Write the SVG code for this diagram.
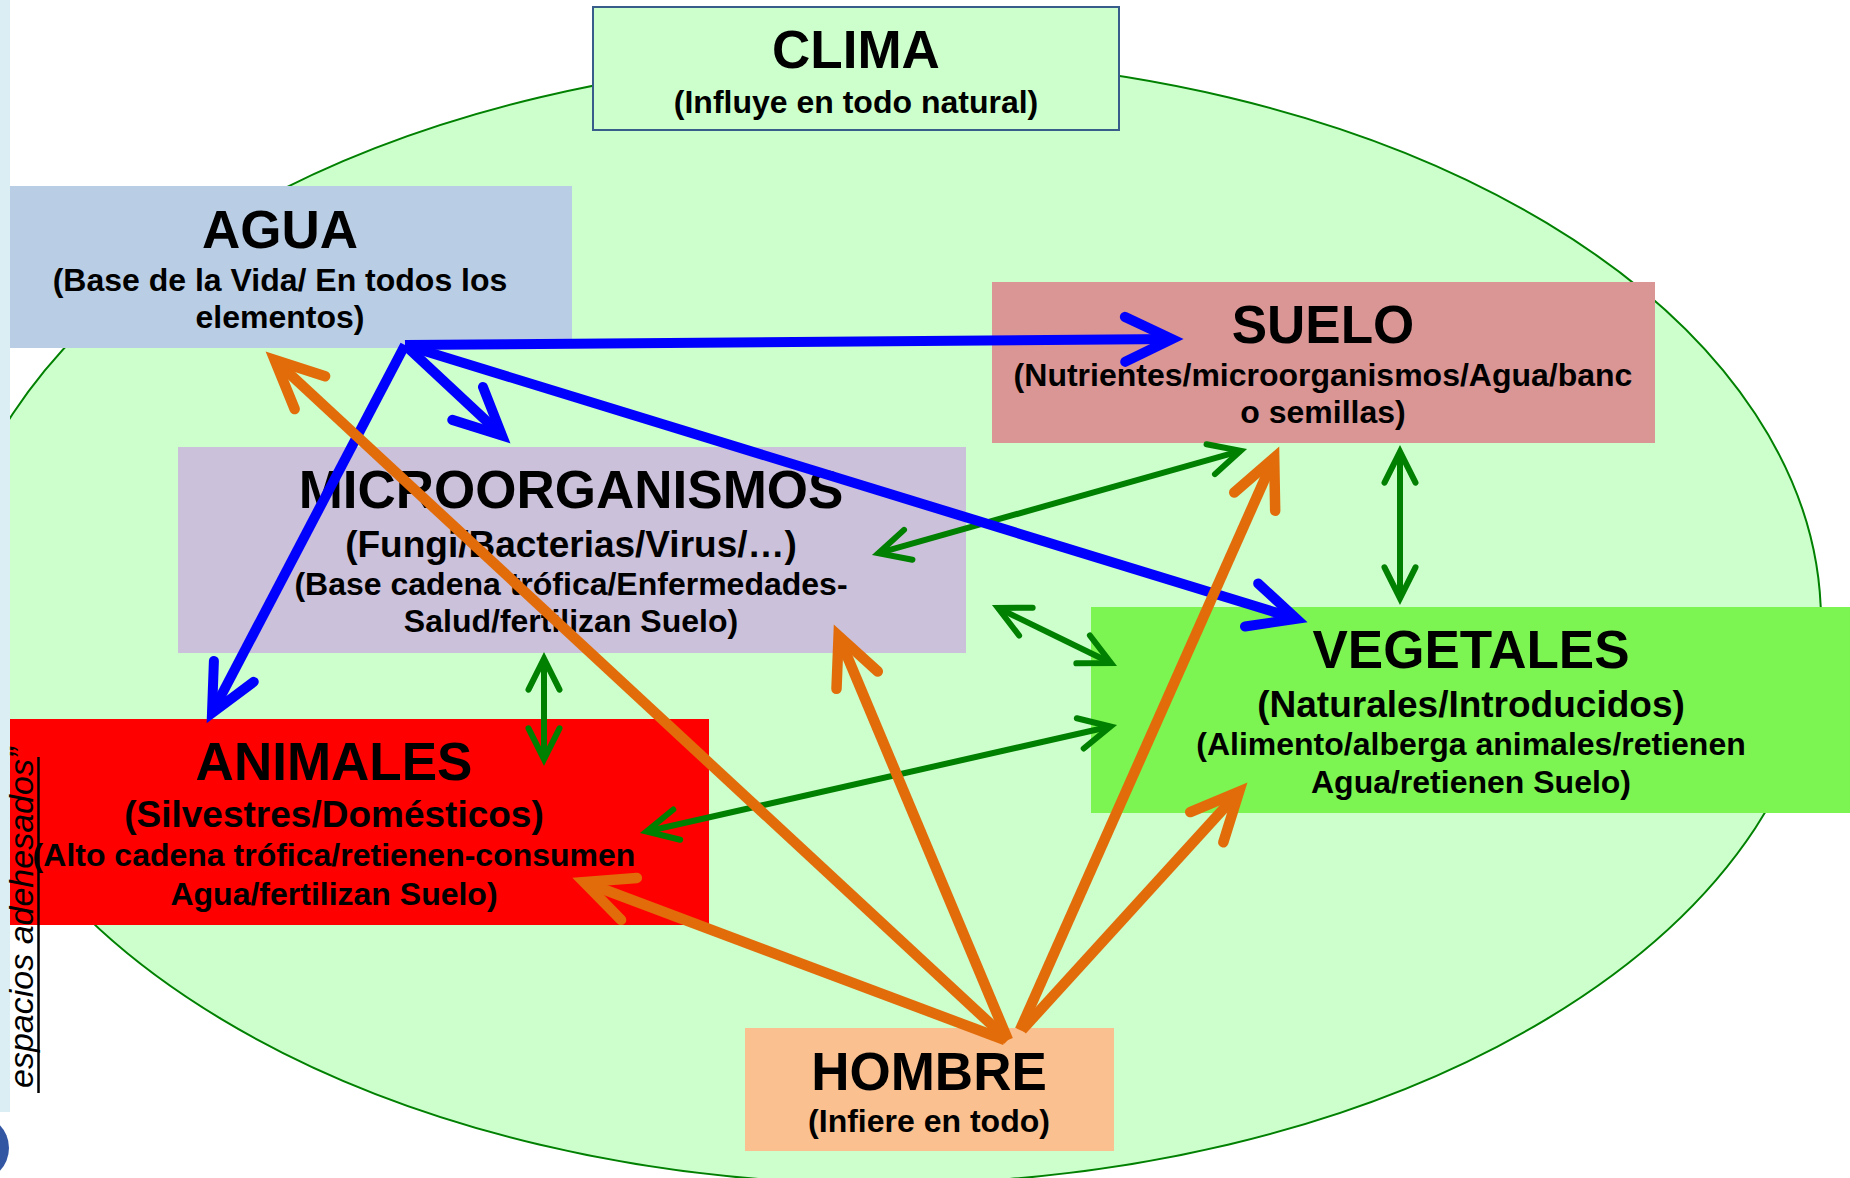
<svg xmlns="http://www.w3.org/2000/svg" width="1850" height="1178" viewBox="0 0 1850 1178">
<style>
.t{font-family:"Liberation Sans",Arial,sans-serif;font-weight:bold;text-anchor:middle;fill:#000}
.h{font-size:53px}
.s{font-size:32px}
.m{font-size:37px}
.g{stroke:#008000;stroke-width:6;fill:none;marker-start:url(#ahG);marker-end:url(#ahG)}
.b{stroke:#0000ff;stroke-width:10;fill:none;marker-end:url(#ahB)}
.o{stroke:#e36c0a;stroke-width:10.5;fill:none;marker-end:url(#ahO)}
</style>
<defs>
<marker id="ahB" markerUnits="userSpaceOnUse" orient="auto-start-reverse" overflow="visible" refX="0" refY="0" markerWidth="60" markerHeight="60">
<path d="M-47,-22.5 L0,0 L-47,22.5" fill="none" stroke="#0000ff" stroke-width="10" stroke-linecap="round" stroke-linejoin="miter" stroke-miterlimit="10"/>
</marker>
<marker id="ahO" markerUnits="userSpaceOnUse" orient="auto-start-reverse" overflow="visible" refX="0" refY="0" markerWidth="60" markerHeight="60">
<path d="M-48,-22.4 L0,0 L-48,22.4" fill="none" stroke="#e36c0a" stroke-width="10.5" stroke-linecap="round" stroke-linejoin="miter" stroke-miterlimit="10"/>
</marker>
<marker id="ahG" markerUnits="userSpaceOnUse" orient="auto-start-reverse" overflow="visible" refX="0" refY="0" markerWidth="40" markerHeight="40">
<path d="M-31,-15.5 L0,0 L-31,15.5" fill="none" stroke="#008000" stroke-width="6" stroke-linecap="round" stroke-linejoin="miter" stroke-miterlimit="10"/>
</marker>
</defs>
<rect x="0" y="0" width="1850" height="1178" fill="#ffffff"/>
<g id="ambiente">
<ellipse cx="884" cy="621" rx="937" ry="563" fill="#ccffcc" stroke="#008000" stroke-width="2"/>
</g>
<rect x="0" y="0" width="10" height="1112" fill="#daeef3"/>
<g id="clima">
<rect x="593" y="7" width="526" height="123" fill="#ccffcc" stroke="#385d8a" stroke-width="2"/>
<text class="t h" x="856" y="68">CLIMA</text>
<text class="t s" x="856" y="113">(Influye en todo natural)</text>
</g>
<g id="agua">
<rect x="10" y="186" width="562" height="162" fill="#b9cde5"/>
<text class="t h" x="280" y="248">AGUA</text>
<text class="t s" x="280" y="291">(Base de la Vida/ En todos los</text>
<text class="t s" x="280" y="328">elementos)</text>
</g>
<g id="suelo">
<rect x="992" y="282" width="663" height="161" fill="#d99694"/>
<text class="t h" x="1323" y="343">SUELO</text>
<text class="t s" x="1323" y="386">(Nutrientes/microorganismos/Agua/banc</text>
<text class="t s" x="1323" y="423">o semillas)</text>
</g>
<g id="microorganismos">
<rect x="178" y="447" width="788" height="206" fill="#ccc1da"/>
<text class="t h" x="571" y="508">MICROORGANISMOS</text>
<text class="t m" x="571" y="557">(Fungi/Bacterias/Virus/…)</text>
<text class="t s" x="571" y="595">(Base cadena trófica/Enfermedades-</text>
<text class="t s" x="571" y="632">Salud/fertilizan Suelo)</text>
</g>
<g id="animales">
<rect x="10" y="719" width="699" height="206" fill="#ff0000"/>
<text class="t h" x="334" y="780">ANIMALES</text>
<text class="t m" x="334" y="827">(Silvestres/Domésticos)</text>
<text class="t s" x="334" y="866">(Alto cadena trófica/retienen-consumen</text>
<text class="t s" x="334" y="905">Agua/fertilizan Suelo)</text>
</g>
<g id="vegetales">
<rect x="1091" y="607" width="759" height="206" fill="#7cf552"/>
<text class="t h" x="1471" y="668">VEGETALES</text>
<text class="t m" x="1471" y="717">(Naturales/Introducidos)</text>
<text class="t s" x="1471" y="755">(Alimento/alberga animales/retienen</text>
<text class="t s" x="1471" y="793">Agua/retienen Suelo)</text>
</g>
<g id="hombre">
<rect x="745" y="1028" width="369" height="123" fill="#fac090"/>
<text class="t h" x="929" y="1090">HOMBRE</text>
<text class="t s" x="929" y="1132">(Infiere en todo)</text>
</g>
<g id="connectors">
<line class="g" x1="1240.6" y1="450.8" x2="878.4" y2="553.2"/>
<line class="g" x1="1400" y1="451.7" x2="1400" y2="598.3"/>
<line class="g" x1="998" y1="608" x2="1111" y2="663"/>
<line class="g" x1="544" y1="658.7" x2="544" y2="759.3"/>
<line class="g" x1="646.5" y1="831.5" x2="1110.5" y2="726.5"/>
<line class="b" x1="405" y1="345" x2="1172" y2="339"/>
<line class="b" x1="405" y1="345" x2="502" y2="435.5"/>
<line class="b" x1="405" y1="345" x2="212" y2="713"/>
<line class="b" x1="405" y1="345" x2="1296.5" y2="618.8"/>
<line class="o" x1="1008" y1="1040" x2="274.7" y2="360"/>
<line class="o" x1="1005" y1="1040" x2="584" y2="882"/>
<line class="o" x1="1008" y1="1040" x2="838.6" y2="635.9"/>
<line class="o" x1="1020" y1="1030" x2="1274.2" y2="457.8"/>
<line class="o" x1="1022" y1="1030" x2="1239.1" y2="791.7"/>
</g>
<g id="lateral">
<text transform="translate(33,1088) rotate(-90)" font-family="Liberation Sans, Arial, sans-serif" font-style="italic" font-size="34" fill="#000">espacios adehesados”</text>
<line x1="38.5" y1="757" x2="38.5" y2="1093" stroke="#000" stroke-width="2.5"/>
<circle cx="-24" cy="1148" r="33" fill="#3356a3"/>
</g>
</svg>
